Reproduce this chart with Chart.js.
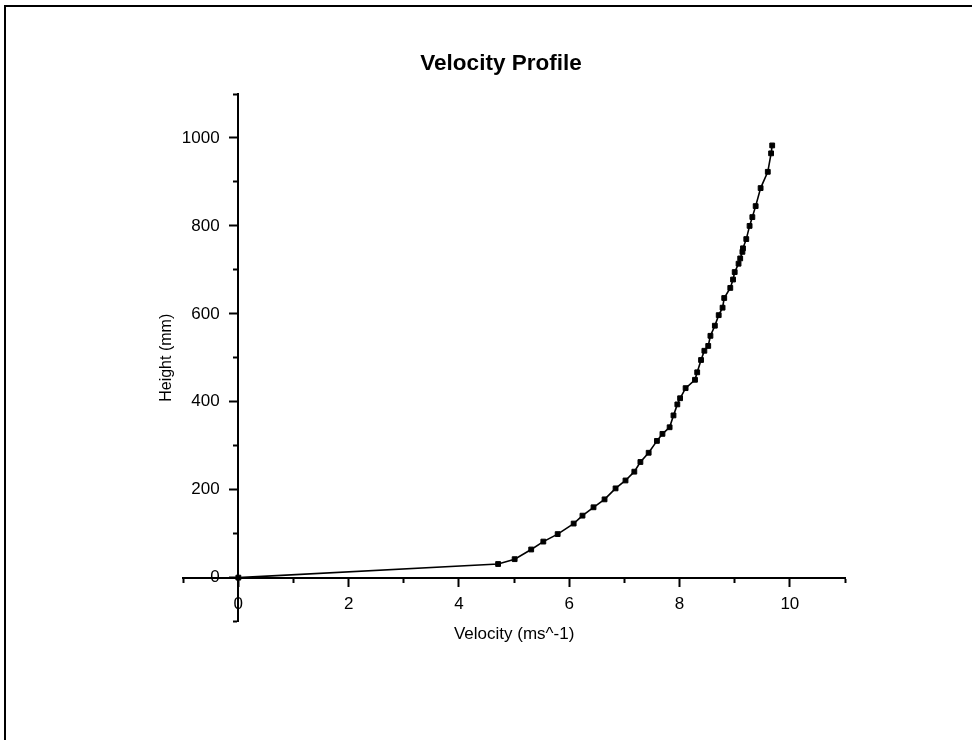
<!DOCTYPE html>
<html>
<head>
<meta charset="utf-8">
<title>Velocity Profile</title>
<script src="https://cdn.jsdelivr.net/npm/chart.js@4.4.1/dist/chart.umd.min.js"></script>
<style>
  html, body { margin: 0; padding: 0; background: #fff; overflow: hidden; }
  #frame { position: absolute; left: 4px; top: 5px; width: 1200px; height: 1000px; border: 2px solid #000; }
  #wrap { position: absolute; left: 0; top: 0; width: 972px; height: 740px; }
</style>
</head>
<body>
<div id="frame"></div>
<div id="wrap"><canvas id="profile"></canvas></div>
<script>
// Measured profile: velocity (m/s) against height above ground (mm)
const velocity = [0, 4.71, 5.01, 5.31, 5.53, 5.79, 6.08, 6.24, 6.44, 6.64, 6.84, 7.02, 7.18, 7.29, 7.44, 7.59,
    7.69, 7.82, 7.89, 7.96, 8.01, 8.11, 8.28, 8.32, 8.39, 8.45, 8.52, 8.56, 8.64, 8.71, 8.78, 8.81,
    8.92, 8.97, 9.00, 9.07, 9.10, 9.14, 9.15, 9.21, 9.27, 9.32, 9.38, 9.47, 9.60, 9.66, 9.68];
const height = [0, 31, 42, 64, 82, 99, 123, 141, 160, 178, 203, 221, 241, 263, 284, 311,
    327, 342, 369, 394, 408, 431, 450, 467, 495, 516, 527, 550, 573, 597, 614, 636,
    659, 678, 695, 714, 726, 741, 749, 770, 800, 820, 845, 886, 923, 965, 983];

// Axis ranges and tick positions
const xRange = [-1, 11];
const yRange = [-100, 1100];
const xMajorTicks = [0, 2, 4, 6, 8, 10];
const xMinorTicks = [-1, 1, 3, 5, 7, 9, 11];
const yMajorTicks = [0, 200, 400, 600, 800, 1000];
const yMinorTicks = [-100, 100, 300, 500, 700, 900, 1100];
// velocity where the height labels end (left of the axis line)
const yLabelAnchor = -0.34;

Chart.defaults.font.family = 'Arial, "Liberation Sans", Helvetica, sans-serif';
Chart.defaults.color = '#000';

const points = velocity.map((v, i) => ({ x: v, y: height[i] }));

// axes crossing at the origin should not eat layout space
function collapse(scale) {
    if (scale.isHorizontal()) scale.height = 0; else scale.width = 0;
    scale.paddingLeft = scale.paddingRight = scale.paddingTop = scale.paddingBottom = 0;
}

function fixedTicks(list) {
    return scale => { scale.ticks = list.map(value => ({ value })); };
}

function originAxis(axis, range, ticks, tickLength, showLabels, pad) {
    const other = axis === 'x' ? { y: 0 } : { x: 0 };
    return {
        type: 'linear',
        axis: axis,
        position: other,
        min: range[0],
        max: range[1],
        afterBuildTicks: fixedTicks(ticks),
        afterFit: collapse,
        border: { display: true, color: '#000', width: 2 },
        grid: { display: true, drawOnChartArea: false, drawTicks: true, tickLength: tickLength, tickWidth: 2, tickColor: '#000' },
        ticks: {
            display: showLabels,
            autoSkip: false,
            maxRotation: 0,
            padding: pad,
            font: { size: 17 },
            callback: v => String(v)
        }
    };
}

// height numbers only, right-aligned just left of the tick marks
const yLabels = {
    type: 'linear',
    axis: 'y',
    position: { x: yLabelAnchor },
    min: yRange[0],
    max: yRange[1],
    afterBuildTicks: fixedTicks(yMajorTicks),
    afterFit: collapse,
    border: { display: false },
    grid: { display: false, drawTicks: false },
    ticks: { autoSkip: false, padding: 0, font: { size: 17 }, callback: v => String(v) }
};

// holds only the axis title
function titleAxis(axis, position, text, size, padding) {
    return {
        type: 'linear',
        axis: axis,
        position: position,
        min: 0,
        max: 1,
        border: { display: false },
        grid: { display: false, drawTicks: false },
        ticks: { display: false },
        title: { display: true, text: text, font: { size: size }, padding: padding }
    };
}

new Chart(document.getElementById('profile'), {
    type: 'scatter',
    data: {
        datasets: [{
            label: 'Velocity',
            data: points,
            showLine: true,
            borderColor: '#000',
            borderWidth: 1.6,
            pointStyle: 'rect',
            pointRadius: 3.4,
            pointBorderWidth: 1,
            pointBackgroundColor: '#000',
            pointBorderColor: '#000',
            clip: false
        }]
    },
    options: {
        responsive: true,
        maintainAspectRatio: false,
        animation: false,
        events: [],
        layout: { padding: { left: 157, right: 127, top: 0, bottom: 95 } },
        plugins: {
            legend: { display: false },
            tooltip: { enabled: false },
            title: {
                display: true,
                text: 'Velocity Profile',
                color: '#000',
                font: { size: 22.5, weight: 'bold' },
                padding: { top: 50, bottom: 17 }
            }
        },
        scales: {
            x: originAxis('x', xRange, xMajorTicks, 8, true, 8),
            xMinor: originAxis('x', xRange, xMinorTicks, 4, false, 0),
            y: originAxis('y', yRange, yMajorTicks, 8, false, 0),
            yMinor: originAxis('y', yRange, yMinorTicks, 4, false, 0),
            yLabels: yLabels,
            xTitle: titleAxis('x', 'bottom', 'Velocity (ms^-1)', 17, { top: 3, bottom: 0 }),
            yTitle: titleAxis('y', 'left', 'Height (mm)', 16, { top: 0, bottom: 7 })
        }
    }
});
</script>
</body>
</html>
